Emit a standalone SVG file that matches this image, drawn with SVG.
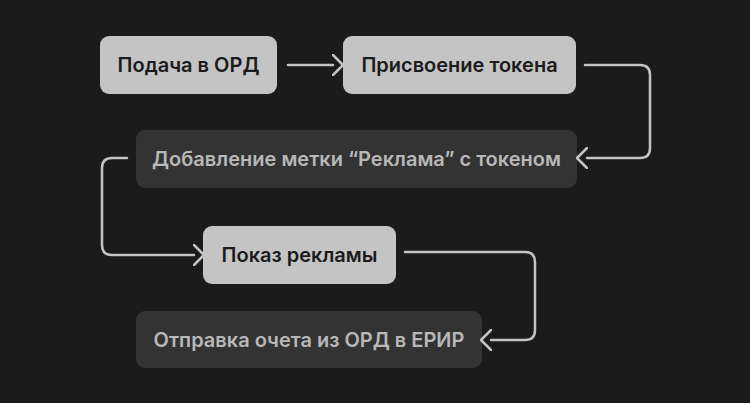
<svg xmlns="http://www.w3.org/2000/svg" width="750" height="403" viewBox="0 0 750 403">
<defs>
<style>
.l{fill:#c4c4c4}.d{fill:#333333}
.tl{fill:#1c1b1b;font-family:Inter,"Liberation Sans",sans-serif;font-size:20px;font-weight:600;text-anchor:middle;dominant-baseline:central}
.td{fill:#b8b8b8;font-family:Inter,"Liberation Sans",sans-serif;font-size:20px;font-weight:600;text-anchor:middle;dominant-baseline:central}
.c{fill:none;stroke:#c4c4c4;stroke-width:2.5;stroke-linecap:round;stroke-linejoin:round}
</style>
<marker id="a" viewBox="0 0 12 22" refX="1" refY="11" markerWidth="12" markerHeight="22" markerUnits="userSpaceOnUse" orient="auto"><path d="M1 1L11 11L1 21" fill="none" stroke="#c4c4c4" stroke-width="2.5" stroke-linecap="round" stroke-linejoin="round"/></marker>
</defs>
<rect width="750" height="403" fill="#1c1b1b"/>
<g id="n1"><rect class="l" x="100" y="36" width="177" height="58" rx="9"/><text class="tl" x="188.5" y="65">Подача в ОРД</text></g>
<g id="n2"><rect class="l" x="343" y="36" width="233" height="58" rx="9"/><text class="tl" x="459.5" y="65">Присвоение токена</text></g>
<g id="n3"><rect class="d" x="136" y="130" width="441" height="58" rx="9"/><text class="td" x="356.5" y="159">Добавление метки “Реклама” с токеном</text></g>
<g id="n4"><rect class="l" x="203" y="226" width="193" height="58" rx="9"/><text class="tl" x="299.5" y="255">Показ рекламы</text></g>
<g id="n5"><rect class="d" x="136" y="311" width="346" height="57" rx="9"/><text class="td" x="309" y="339.5">Отправка очета из ОРД в ЕРИР</text></g>
<g id="connectors">
<path class="c" d="M288 65H333" marker-end="url(#a)"/>
<path class="c" d="M585 65H640Q650 65 650 75V148Q650 158 640 158H587" marker-end="url(#a)"/>
<path class="c" d="M127 158H112Q102 158 102 168V245Q102 255 112 255H194" marker-end="url(#a)"/>
<path class="c" d="M405 252H525Q535 252 535 262V330Q535 340 525 340H491" marker-end="url(#a)"/>
</g>
</svg>
